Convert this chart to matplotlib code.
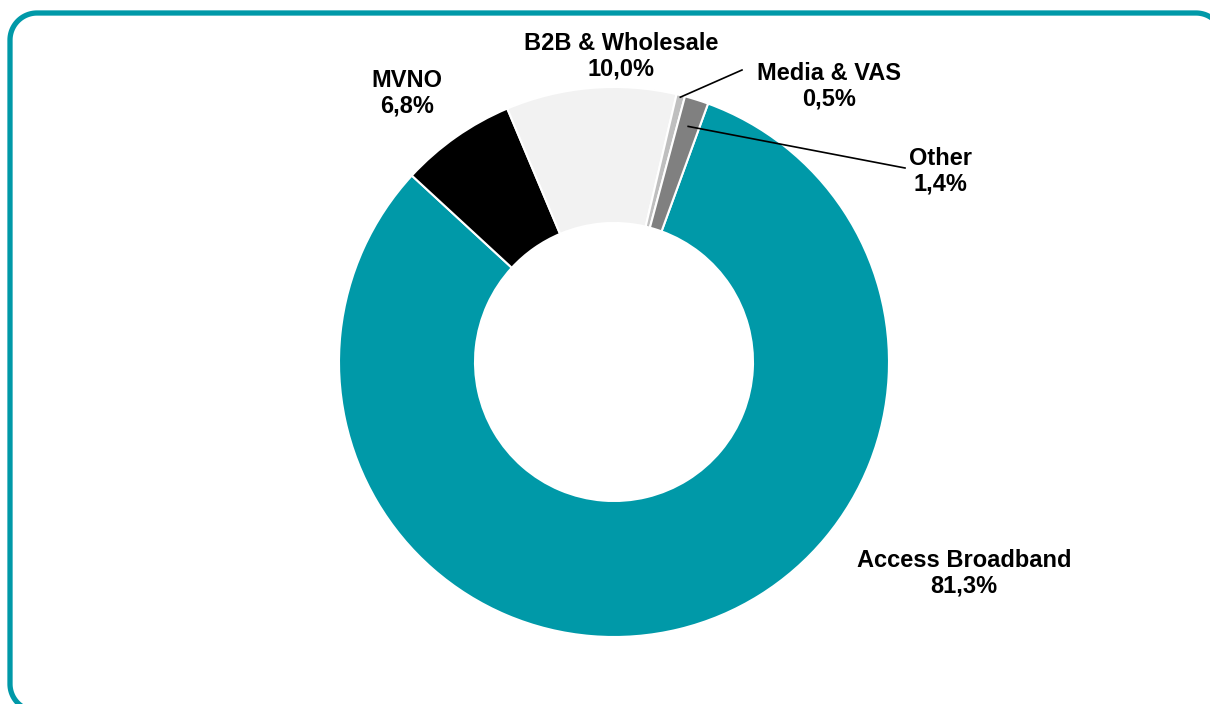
import numpy as np
import matplotlib.pyplot as plt

plt.rcParams['font.family'] = ['Liberation Sans', 'DejaVu Sans']

segments = ["Access Broadband", "MVNO", "B2B & Wholesale", "Media & VAS", "Other"]
shares = [81.3, 6.8, 10.0, 0.5, 1.4]
colors = ["#0099A8", "#000000", "#F2F2F2", "#BFBFBF", "#808080"]

W, H = 1210, 704
fig = plt.figure(figsize=(W / 100, H / 100), dpi=100)
ax = fig.add_axes([0, 0, 1, 1])

cx, cy = 614, H - 362
r_out, r_in = 275, 139

wedges, _ = ax.pie(shares, colors=colors, startangle=70, counterclock=False,
                   radius=r_out, center=(cx, cy), frame=True,
                   wedgeprops=dict(width=r_out - r_in, edgecolor="white", linewidth=1.5))
ax.set_xlim(0, W)
ax.set_ylim(0, H)
ax.set_aspect('equal')
ax.axis('off')

# rounded teal frame, running off the right and bottom edges
def rounded_box(x0, y0, x1, y1, r, n=30):
    pts = []
    corners = [(x1 - r, y1 - r, 0, 90), (x0 + r, y1 - r, 90, 180),
               (x0 + r, y0 + r, 180, 270), (x1 - r, y0 + r, 270, 360)]
    for ccx, ccy, a0, a1 in corners:
        t = np.deg2rad(np.linspace(a0, a1, n))
        pts += list(zip(ccx + r * np.cos(t), ccy + r * np.sin(t)))
    pts.append(pts[0])
    return np.array(pts)


box = rounded_box(10, H - 711, 1223, H - 13, 27)
ax.plot(box[:, 0], box[:, 1], color="#0099A8", lw=3.8, clip_on=False,
        solid_joinstyle="round")


def lbl(i):
    return f"{segments[i]}\n{shares[i]:.1f}%".replace(".", ",")


txt = dict(ha="center", va="center", fontsize=17, fontweight="bold",
           linespacing=1.12, color="black")

ax.text(964, H - 573, lbl(0), **txt)
ax.text(407, H - 93, lbl(1), **txt)
ax.text(621, H - 56, lbl(2), **txt)
ax.text(829, H - 86, lbl(3), **txt)
ax.text(940, H - 171, lbl(4), **txt)


def mid_point(i, r):
    w = wedges[i]
    a = np.deg2rad((w.theta1 + w.theta2) / 2)
    return cx + r * np.cos(a), cy + r * np.sin(a)


# leader lines for the two thin slices
x0, y0 = mid_point(3, 273)
ax.plot([x0, 742], [y0, H - 70], color="black", lw=1.2)
x0, y0 = mid_point(4, 247)
ax.plot([x0, 905], [y0, H - 168], color="black", lw=1.2)

fig.savefig("out.png", dpi=100)
